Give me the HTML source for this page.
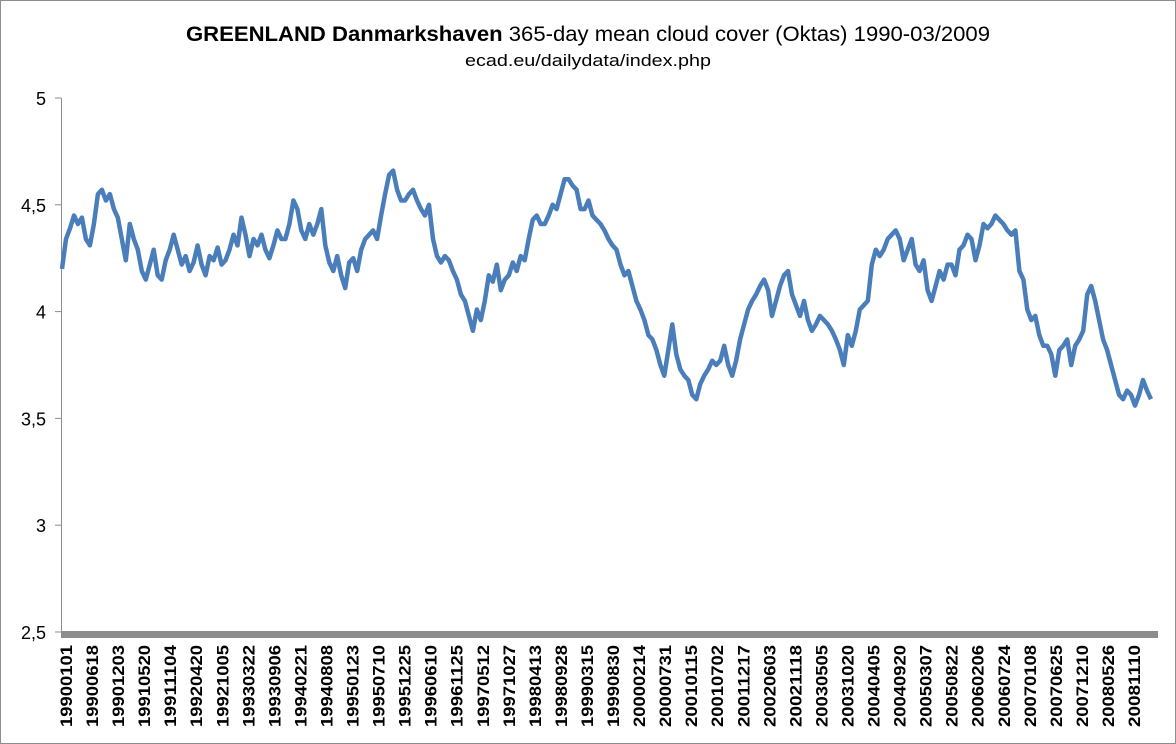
<!DOCTYPE html>
<html><head><meta charset="utf-8"><style>
body{margin:0;background:#fff}
svg{display:block;font-family:"Liberation Sans",Calibri,sans-serif}
</style></head><body>
<svg id="chart" width="1176" height="744">
<rect x="0.5" y="0.5" width="1175" height="743" fill="#fff" stroke="#8c8c8c"/>
<text x="588" y="41" text-anchor="middle" font-size="21" fill="#000" textLength="804" lengthAdjust="spacingAndGlyphs"><tspan font-weight="bold">GREENLAND Danmarkshaven</tspan> 365-day mean cloud cover (Oktas) 1990-03/2009</text>
<text x="588" y="66" text-anchor="middle" font-size="17" fill="#000" textLength="246" lengthAdjust="spacingAndGlyphs">ecad.eu/dailydata/index.php</text>
<g id="axes"></g>
<path id="line" fill="none" stroke="#4a7ebb" stroke-width="4.5" stroke-linejoin="round"/>
</svg>
<script>
const yTicks=[2.5,3,3.5,4,4.5,5];
const yTickLabels=["2,5","3","3,5","4","4,5","5"];
const categories=["19900101","19900618","19901203","19910520","19911104","19920420","19921005","19930322","19930906","19940221","19940808","19950123","19950710","19951225","19960610","19961125","19970512","19971027","19980413","19980928","19990315","19990830","20000214","20000731","20010115","20010702","20011217","20020603","20021118","20030505","20031020","20040405","20040920","20050307","20050822","20060206","20060724","20070108","20070625","20071210","20080526","20081110"];
const values=[4.20,4.34,4.39,4.45,4.41,4.44,4.34,4.31,4.41,4.55,4.57,4.52,4.55,4.48,4.44,4.34,4.24,4.41,4.34,4.29,4.19,4.15,4.22,4.29,4.17,4.15,4.24,4.29,4.36,4.29,4.22,4.26,4.19,4.23,4.31,4.22,4.17,4.26,4.24,4.30,4.22,4.24,4.29,4.36,4.31,4.44,4.36,4.26,4.34,4.31,4.36,4.29,4.25,4.31,4.38,4.34,4.34,4.41,4.52,4.48,4.38,4.34,4.41,4.36,4.41,4.48,4.31,4.23,4.19,4.26,4.17,4.11,4.23,4.25,4.19,4.29,4.34,4.36,4.38,4.34,4.45,4.55,4.64,4.66,4.57,4.52,4.52,4.55,4.57,4.52,4.48,4.45,4.50,4.34,4.26,4.23,4.26,4.24,4.19,4.15,4.08,4.05,3.98,3.91,4.01,3.96,4.05,4.17,4.14,4.22,4.10,4.15,4.17,4.23,4.19,4.26,4.24,4.34,4.43,4.45,4.41,4.41,4.45,4.50,4.48,4.55,4.62,4.62,4.59,4.57,4.48,4.48,4.52,4.45,4.43,4.41,4.38,4.34,4.31,4.29,4.22,4.17,4.19,4.12,4.05,4.01,3.96,3.89,3.87,3.82,3.75,3.70,3.82,3.94,3.80,3.73,3.70,3.68,3.61,3.59,3.66,3.70,3.73,3.77,3.75,3.77,3.84,3.75,3.70,3.77,3.87,3.94,4.01,4.05,4.08,4.12,4.15,4.10,3.98,4.05,4.12,4.17,4.19,4.08,4.03,3.98,4.05,3.96,3.91,3.94,3.98,3.96,3.94,3.91,3.87,3.82,3.75,3.89,3.84,3.91,4.01,4.03,4.05,4.22,4.29,4.26,4.29,4.34,4.36,4.38,4.34,4.24,4.29,4.34,4.22,4.19,4.24,4.10,4.05,4.12,4.19,4.15,4.22,4.22,4.17,4.29,4.31,4.36,4.34,4.24,4.31,4.41,4.39,4.41,4.45,4.43,4.41,4.38,4.36,4.38,4.19,4.15,4.01,3.96,3.98,3.89,3.84,3.84,3.80,3.70,3.82,3.84,3.87,3.75,3.84,3.87,3.91,4.08,4.12,4.05,3.96,3.87,3.82,3.75,3.68,3.61,3.59,3.63,3.61,3.56,3.61,3.68,3.63,3.59];

const NS="http://www.w3.org/2000/svg";
const X0=62,X1=1151,Y5=98,Y25=632;
function yScale(v){return Y25-(v-2.5)/2.5*(Y25-Y5);}
function xScale(i){return X0+i/(values.length-1)*(X1-X0);}
function catX(i){return 66+i*(1134-66)/(categories.length-1);}
const axes=document.getElementById('axes');
function mk(tag,attrs){const e=document.createElementNS(NS,tag);for(const k in attrs)e.setAttribute(k,attrs[k]);axes.appendChild(e);return e;}

const yAxis=mk('line',{x1:61.5,y1:Y5,x2:61.5,y2:Y25,stroke:'#8c8c8c','stroke-width':1});


yTicks.forEach((t,i)=>{
  const y=yScale(t);
  const tk=mk('line',{x1:55,y1:y,x2:61,y2:y,stroke:'#8c8c8c'});
  
  
  const lb=mk('text',{x:46,y:y+7,'text-anchor':'end','font-size':18,fill:'#000'});
  lb.textContent=yTickLabels[i];
  
  
});
const xAxis=mk('rect',{x:61,y:631,width:1097,height:7,fill:'#8c8c8c'});


categories.forEach((c,i)=>{
  const x=catX(i);
  const t=mk('text',{x:0,y:0,transform:`translate(${x+6},645) rotate(-90)`,'text-anchor':'end','font-size':17,'font-weight':'bold',fill:'#000',textLength:82,lengthAdjust:'spacingAndGlyphs'});
  t.textContent=c;
  
  
});
let d='';
values.forEach((v,i)=>{d+=(i?'L':'M')+xScale(i).toFixed(1)+','+yScale(v).toFixed(1);});
document.getElementById('line').setAttribute('d',d);
</script>
</body></html>
